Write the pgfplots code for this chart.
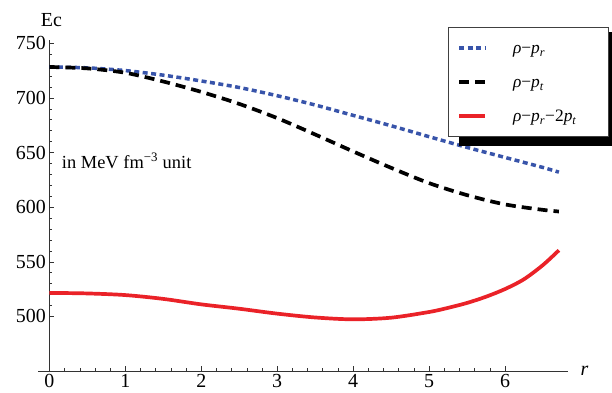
\documentclass[border=0pt]{standalone}
\usepackage{pgfplots}
\pgfplotsset{compat=1.18}
\usepackage{pgfplotstable}
\usepackage{fontspec}
\setmainfont{Liberation Serif}

\definecolor{mblue}{RGB}{56,84,170}
\definecolor{mred}{RGB}{234,34,40}

\pgfplotstableread{
r v
0    728.3
0.5  727.5
1    725
1.5  720.8
2    715.5
2.5  709.5
3    702
3.5  693.5
4    684
4.5  674.5
5    664.5
5.5  654.7
6    645.5
6.5  636.3
6.71 632
}\rhopr

\pgfplotstableread{
r v
0    728.3
0.5  727
1    723
1.5  715
2    705.5
2.5  694.5
3    681.5
3.5  666.5
4    651
4.5  636
5    622
5.5  611
6    602.5
6.5  597.5
6.71 596
}\rhopt

\pgfplotstableread{
r v
0    521.5
0.5  521
1    519.5
1.5  516
2    511
2.5  507
3    502.5
3.5  499
4    497.3
4.5  498.8
5    504
5.25 507.8
5.5  512.3
5.75 518
6    525
6.25 534
6.5  547
6.71 560.5
}\rhotot

\begin{document}
\begin{tikzpicture}
\useasboundingbox (0,0) rectangle (612bp,393bp);
\begin{axis}[
  at={(38bp,22bp)}, anchor=south west,
  scale only axis, width=530bp, height=331bp,
  xmin=-0.15, xmax=6.83, ymin=450, ymax=753,
  axis x line=bottom, axis y line=middle,
  hide obscured x ticks=false, hide obscured y ticks=false,
  axis line style={-, line width=0.6pt, black!80},
  xtick={0,1,...,6}, ytick={500,550,...,750},
  minor x tick num=4, minor y tick num=4,
  tick align=inside,
  major tick length=5bp, minor tick length=3bp,
  tick style={black!80, line width=0.5pt},
  ticklabel style={font=\rmfamily\fontsize{20}{20}\selectfont},
  /pgf/number format/assume math mode=true,
  clip=false,
  legend image code/.code={\draw[#1] (0bp,0bp) -- (26bp,0bp);},
  legend cell align=left,
  legend style={at={(0.7736,1.0393)}, anchor=north west,
    draw=black!75, line width=0.6pt, fill=white,
    font=\rmfamily\fontsize{17.5}{17.5}\selectfont,
    nodes={inner sep=0pt},
    inner xsep=9bp, inner ysep=13bp,
    row sep=19bp, column sep=26bp},
]
\addplot[mblue, line width=3.5bp, dash pattern=on 5bp off 3.5bp, smooth] table[x=r, y=v] {\rhopr};
\addlegendentry{\makebox[86bp][l]{\rule{0pt}{13.5bp}\textit{ρ}−\textit{p}\textsubscript{\textit{r}}}}
\addplot[black, line width=3.7bp, dash pattern=on 10bp off 6bp, smooth] table[x=r, y=v] {\rhopt};
\addlegendentry{\makebox[86bp][l]{\rule{0pt}{13.5bp}\textit{ρ}−\textit{p}\textsubscript{\textit{t}}}}
\addplot[mred, line width=3.7bp, smooth] table[x=r, y=v] {\rhotot};
\addlegendentry{\makebox[86bp][l]{\rule{0pt}{13.5bp}\textit{ρ}−\textit{p}\textsubscript{\textit{r}}−2\textit{p}\textsubscript{\textit{t}}}}
\fill[black] (axis description cs:0.7943,0.6798) rectangle (axis description cs:1.1,1.0242);
\node[anchor=base, font=\rmfamily\fontsize{20}{20}\selectfont, xshift=2bp, yshift=13bp] at (axis cs:0,753) {Ec};
\node[anchor=west, font=\rmfamily\fontsize{20}{20}\selectfont, xshift=9bp] at (axis cs:6.83,450) {\textit{r}};
\node[anchor=base west, inner sep=0pt, font=\rmfamily\fontsize{18.5}{18.5}\selectfont] at (axis cs:0.163,635.7) {in MeV fm\textsuperscript{−3} unit};
\end{axis}
\end{tikzpicture}
\end{document}
